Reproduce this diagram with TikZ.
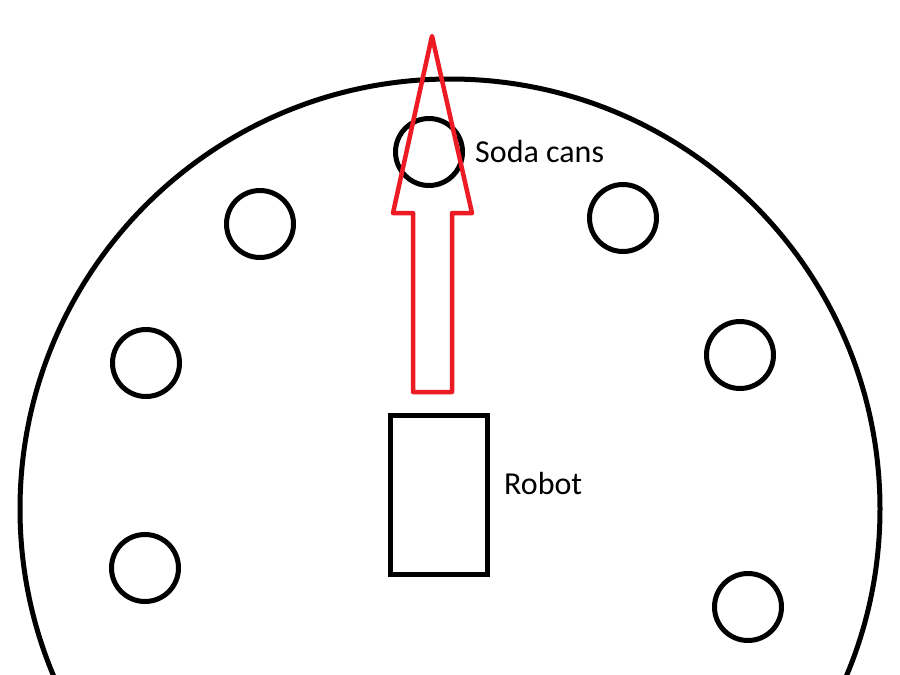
\documentclass[tikz,border=0pt]{standalone}
\usepackage{fontspec}
\setmainfont{Carlito}
\definecolor{paintred}{RGB}{237,28,36}
\begin{document}
\begin{tikzpicture}[x=1pt,y=-1pt,
    can/.style ={circle, draw, line width=5pt, inner sep=0pt, minimum size=67pt},
    robot/.style ={rectangle, draw, line width=5pt, inner sep=0pt, minimum width=97pt, minimum height=159pt},
    tag/.style ={inner sep=0pt, font=\fontsize{32}{38}\selectfont}]
   \useasboundingbox (0,0) rectangle (900,675);
   \clip (0,0) rectangle (900,675);
   \fill[white] (0,0) rectangle (900,675);
   % table edge
   \draw[line width=5pt] (450,509) circle (430);
   % cans
   \node[can] (C1) at (429,152) {};
   \node[can] (C2) at (260,224) {};
   \node[can] (C3) at (623,218) {};
   \node[can] (C4) at (146,363) {};
   \node[can] (C5) at (740,355) {};
   \node[can] (C6) at (145,568) {};
   \node[can] (C7) at (748,607) {};
   \node[robot] (R) at (438.5,494.5) {};
   \node[tag, anchor=base west] (L1) at (475,162) {Soda cans};
   \node[tag, anchor=base west] (L2) at (504,494) {Robot};
   % direction of travel
   \draw[paintred, line width=4.5pt, line join=round]
     (432,36) -- (472,213) -- (452,213) -- (452,392) -- (413,392)
     -- (413,213) -- (393,213) -- cycle;
 \end{tikzpicture}
\end{document}
